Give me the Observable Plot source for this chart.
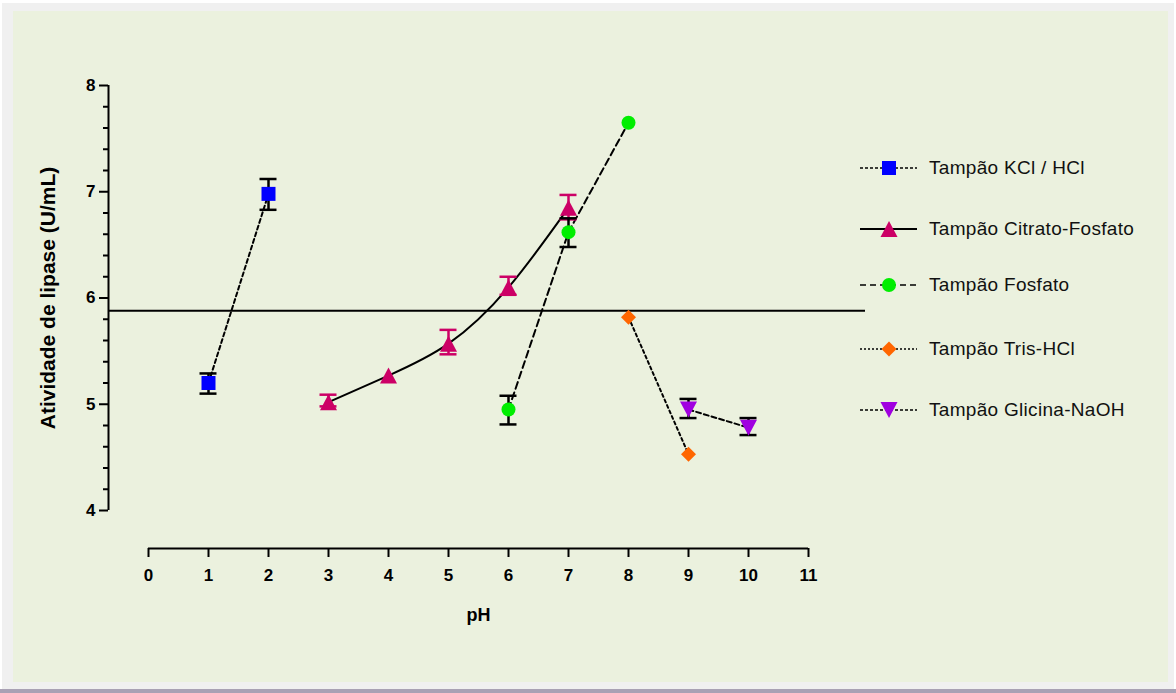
<!DOCTYPE html>
<html><head><meta charset="utf-8">
<script src="https://cdn.jsdelivr.net/npm/d3@7"></script>
<script src="https://cdn.jsdelivr.net/npm/@observablehq/plot@0.6"></script>
<style>
html,body{margin:0;padding:0;background:#fff;}
body{width:1176px;height:693px;position:relative;overflow:hidden;font-family:"Liberation Sans",Arial,sans-serif;}
#frame{position:absolute;left:2px;top:3px;width:1172px;height:686px;background:#F0F0F0;}
#panel{position:absolute;left:13px;top:11px;width:1155px;height:671px;background:#EBF1DE;}
#bar{position:absolute;left:0;top:689px;width:1176px;height:4px;background:#A9A1B4;}
#chart{position:absolute;left:0;top:0;}
.item{position:absolute;left:858px;height:24px;display:flex;align-items:center;white-space:nowrap;}
.item svg{display:block;}
.item span{font-size:19px;letter-spacing:0.3px;color:#111;margin-left:11px;}
</style></head>
<body>
<div id="frame"></div><div id="panel"></div><div id="bar"></div>
<div id="chart"></div>
<div id="legend"></div>
<script>
// ---- data ----
const xTicks = [0,1,2,3,4,5,6,7,8,9,10,11];
const yTicks = [4,5,6,7,8];
const yMinorTicks = [4.2,4.4,4.6,4.8,5.2,5.4,5.6,5.8,6.2,6.4,6.6,6.8,7.2,7.4,7.6,7.8];
const xDomain = [0, 11];
const yDomain = [4, 8];
const xLabel = "pH";
const yLabel = "Atividade de lipase (U/mL)";
const refLine = 5.88;

const seriesNames = ["Tampão KCl / HCl","Tampão Citrato-Fosfato","Tampão Fosfato","Tampão Tris-HCl","Tampão Glicina-NaOH"];
const seriesColors = ["#0000FF","#CC0066","#00EE00","#FF6600","#A000E0"];
const errColors = ["#000000","#CC0066","#000000","#000000","#000000"];
const seriesDash = ["4,3", null, "7,4", "3,3", "5,3"];
const legendDash = ["3,2", null, "6,4", "2,2", "3,2"];
const seriesSymbols = ["square","triangle","circle","diamond","triangleDown"];

const kclPH = [1, 2];
const kclVal = [5.20, 6.98];
const kclLo = [5.10, 6.83];
const kclHi = [5.29, 7.12];

const citPH = [3, 4, 5, 6, 7];
const citVal = [5.02, 5.27, 5.57, 6.10, 6.85];
const citLo = [4.98, null, 5.47, 6.03, 6.74];
const citHi = [5.09, null, 5.70, 6.20, 6.97];

const fosPH = [6, 7, 8];
const fosVal = [4.95, 6.62, 7.65];
const fosLo = [4.81, 6.48, null];
const fosHi = [5.08, 6.75, null];

const trisPH = [8, 9];
const trisVal = [5.82, 4.53];

const gliPH = [9, 10];
const gliVal = [4.95, 4.78];
const gliLo = [4.87, 4.71];
const gliHi = [5.05, 4.87];

// ---- build tables ----
const mk = (xs, ys, lo, hi) => xs.map((x, i) => ({x, y: ys[i], lo: lo ? lo[i] : null, hi: hi ? hi[i] : null}));
const series = [
  mk(kclPH, kclVal, kclLo, kclHi),
  mk(citPH, citVal, citLo, citHi),
  mk(fosPH, fosVal, fosLo, fosHi),
  mk(trisPH, trisVal),
  mk(gliPH, gliVal, gliLo, gliHi)
];

// ---- symbols ----
const symbols = {
  square: {draw(c){ c.moveTo(-7,-7); c.lineTo(7,-7); c.lineTo(7,7); c.lineTo(-7,7); c.closePath(); }},
  triangle: {draw(c){ c.moveTo(0,-8); c.lineTo(8.5,8); c.lineTo(-8.5,8); c.closePath(); }},
  triangleDown: {draw(c){ c.moveTo(-8.5,-8); c.lineTo(8.5,-8); c.lineTo(0,8); c.closePath(); }},
  diamond: {draw(c){ c.moveTo(0,-7.5); c.lineTo(7.5,0); c.lineTo(0,7.5); c.lineTo(-7.5,0); c.closePath(); }},
  circle: {draw(c){ c.moveTo(7,0); c.arc(0,0,7,0,2*Math.PI); c.closePath(); }}
};

const font = "Liberation Sans, Arial, sans-serif";
const marks = [];

// reference line
marks.push(Plot.ruleY([refLine], {stroke:"black", strokeWidth:2, insetLeft:-40, insetRight:-57}));

// connecting lines
series.forEach((s, i) => {
  marks.push(Plot.line(s, {x:"x", y:"y", stroke:"black", strokeWidth:2,
    strokeDasharray: seriesDash[i] || undefined, curve: i === 1 ? "natural" : "linear"}));
});

// error bars
series.forEach((s, i) => {
  const e = s.filter(d => d.lo != null && d.hi != null);
  if (!e.length) return;
  marks.push(Plot.ruleX(e, {x:"x", y1:"lo", y2:"hi", stroke: errColors[i], strokeWidth:2.5}));
  marks.push(Plot.ruleY(e, {x1:"x", x2:"x", y:"hi", stroke: errColors[i], strokeWidth:2.5, insetLeft:-8.5, insetRight:-8.5}));
  marks.push(Plot.ruleY(e, {x1:"x", x2:"x", y:"lo", stroke: errColors[i], strokeWidth:2.5, insetLeft:-8.5, insetRight:-8.5}));
});

// markers
series.forEach((s, i) => {
  marks.push(Plot.dot(s, {x:"x", y:"y", symbol: symbols[seriesSymbols[i]], r:7, fill: seriesColors[i], stroke:"none"}));
});

// axes
marks.push(Plot.ruleX([xDomain[0]], {y1: yDomain[0], y2: yDomain[1], dx:-40, stroke:"black", strokeWidth:2}));
marks.push(Plot.axisY(yTicks, {anchor:"left", dx:-40, tickSize:9, tickPadding:4, strokeWidth:2, label:null,
  tickFormat: d => String(d), fontSize:17, fontWeight:"bold", fontFamily:font, color:"black"}));
marks.push(Plot.axisY(yMinorTicks, {anchor:"left", dx:-40, tickSize:5, strokeWidth:2, text:null, label:null, color:"black"}));
marks.push(Plot.ruleY([yDomain[0]], {x1: xDomain[0], x2: xDomain[1], dy:38, stroke:"black", strokeWidth:2}));
marks.push(Plot.axisX(xTicks, {anchor:"bottom", dy:38, tickSize:9, tickPadding:11, strokeWidth:2, label:null,
  tickFormat: d => String(d), fontSize:17, fontWeight:"bold", fontFamily:font, color:"black"}));

// axis titles
marks.push(Plot.text([yLabel], {text: d => d, frameAnchor:"left", textAnchor:"middle", lineAnchor:"middle",
  rotate:-90, dx:-100, fontSize:21, fontWeight:"bold", fontFamily:font, fill:"black"}));
marks.push(Plot.text([xLabel], {text: d => d, frameAnchor:"bottom", textAnchor:"middle", lineAnchor:"middle", dy:105,
  fontSize:18, fontWeight:"bold", fontFamily:font, fill:"black"}));

const chart = Plot.plot({
  width: 1176, height: 693,
  marginLeft: 148, marginRight: 368, marginTop: 85, marginBottom: 183,
  x: {domain: xDomain},
  y: {domain: yDomain},
  style: {background:"transparent", overflow:"visible", fontFamily: font, color:"black"},
  marks
});
document.getElementById("chart").appendChild(chart);

// ---- legend ----
const legendY = [168, 229, 285, 349, 410];
const legend = document.getElementById("legend");
seriesNames.forEach((name, i) => {
  const div = document.createElement("div");
  div.className = "item";
  div.style.top = (legendY[i] - 12) + "px";
  const svg = d3.create("svg").attr("width", 60).attr("height", 24);
  svg.append("line").attr("x1", 2).attr("x2", 59).attr("y1", 12).attr("y2", 12)
    .attr("stroke", "black").attr("stroke-width", i === 1 ? 2 : 1.6)
    .attr("stroke-dasharray", legendDash[i]);
  const p = d3.path();
  symbols[seriesSymbols[i]].draw(p);
  svg.append("path").attr("d", p.toString()).attr("transform", "translate(31,12)").attr("fill", seriesColors[i]);
  div.appendChild(svg.node());
  const span = document.createElement("span");
  span.textContent = name;
  div.appendChild(span);
  legend.appendChild(div);
});
</script>
</body></html>
